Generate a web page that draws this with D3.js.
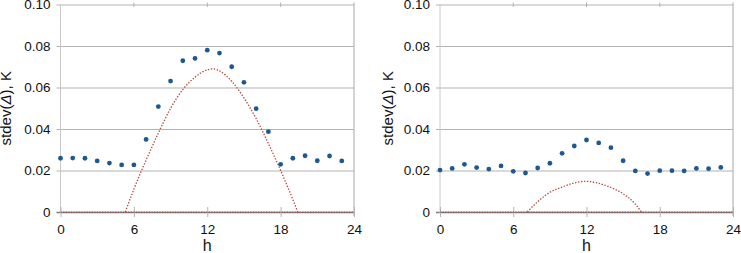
<!DOCTYPE html>
<html>
<head>
<meta charset="utf-8">
<script src="https://cdn.jsdelivr.net/npm/d3@7"></script>
<style>
  body { margin: 0; background: #fff; }
  svg { display: block; font-family: "Liberation Sans", Arial, sans-serif; }
  .tick text { fill: #111; font-size: 13.5px; }
</style>
</head>
<body>
<div id="chart"></div>
<script>
// hours of the measured points
var hours = d3.range(0, 24);
var xTicks = [0, 6, 12, 18, 24];
var yTicks = [0, 0.02, 0.04, 0.06, 0.08, 0.10];

// left panel
var leftPoints = [0.0259, 0.0260, 0.0259, 0.0246, 0.0236, 0.0227, 0.0227, 0.0350,
                  0.0508, 0.0631, 0.0729, 0.0740, 0.0780, 0.0766, 0.0700, 0.0625,
                  0.0498, 0.0387, 0.0230, 0.0259, 0.0271, 0.0247, 0.0270, 0.0246];
var leftCurveH = [5.3, 6, 7, 8, 9, 10, 11, 12, 12.5, 13, 14, 15, 16, 17, 18, 19, 19.4];
var leftCurveV = [0, 0.011, 0.025, 0.038, 0.050, 0.059, 0.065, 0.0685, 0.069, 0.068, 0.063, 0.055, 0.045, 0.033, 0.020, 0.006, 0];

// right panel
var rightPoints = [0.0202, 0.0210, 0.0230, 0.0214, 0.0207, 0.0222, 0.0196, 0.0188,
                   0.0212, 0.0235, 0.0283, 0.0318, 0.0347, 0.0333, 0.0310, 0.0247,
                   0.0198, 0.0185, 0.0199, 0.0199, 0.0198, 0.0210, 0.0209, 0.0215];
var rightCurveH = [7.15, 8, 9, 10, 11, 12, 13, 14, 15, 16, 16.5];
var rightCurveV = [0, 0.005, 0.0095, 0.012, 0.014, 0.0148, 0.0138, 0.0118, 0.0088, 0.0038, 0];

var W = 741, H = 253;
var svg = d3.select("#chart").append("svg")
    .attr("width", W)
    .attr("height", H);

function drawPanel(left, right, labelX, points, curveH, curveV) {
  var top = 4.5, bottom = 212;

  var x = d3.scaleLinear().domain([0, 24]).range([left, right]);
  var y = d3.scaleLinear().domain([0, 0.10]).range([bottom, top]);

  var g = svg.append("g");

  // horizontal grid + y tick labels
  var yAxis = g.append("g")
      .attr("transform", "translate(" + left + ",0)")
      .call(d3.axisLeft(y).tickValues(yTicks).tickSize(-(right - left))
        .tickPadding(10)
        .tickFormat(function(d) { return d === 0 ? "0" : d3.format(".2f")(d); }));
  yAxis.select(".domain").remove();
  yAxis.selectAll(".tick line")
      .attr("x1", -4)
      .attr("stroke", function(d) { return d === 0 ? "#7a7a7a" : "#b4b4b4"; })
      .attr("stroke-width", function(d) { return d === 0 ? 1.3 : 1.1; });

  // left axis line and right border
  g.append("line").attr("x1", left).attr("x2", left).attr("y1", top).attr("y2", bottom + 1)
      .attr("stroke", "#c8c8c8");
  g.append("line").attr("x1", right).attr("x2", right).attr("y1", top - 2).attr("y2", bottom + 4)
      .attr("stroke", "#a8a8a8");

  // bottom axis with crossing ticks
  var xAxis = g.append("g")
      .attr("transform", "translate(0," + bottom + ")")
      .call(d3.axisBottom(x).tickValues(xTicks).tickSize(5).tickPadding(7));
  xAxis.select(".domain").remove();
  xAxis.selectAll(".tick line").attr("y1", -5).attr("stroke", "#b4b4b4");

  // top ticks
  g.selectAll(".toptick").data(xTicks.slice(1, 4)).enter().append("line")
      .attr("class", "toptick")
      .attr("x1", function(d) { return x(d); }).attr("x2", function(d) { return x(d); })
      .attr("y1", top - 2).attr("y2", top + 2.5)
      .attr("stroke", "#b4b4b4");

  // zero baseline of the model (dotted)
  g.append("line")
      .attr("x1", x(0)).attr("x2", x(24)).attr("y1", y(0)).attr("y2", y(0))
      .attr("stroke", "#b5473b").attr("stroke-width", 1).attr("stroke-dasharray", "1.3,1.3");

  // model curve
  var line = d3.line()
      .x(function(d, i) { return x(curveH[i]); })
      .y(function(d) { return y(d); })
      .curve(d3.curveMonotoneX);
  g.append("path")
      .datum(curveV)
      .attr("d", line)
      .attr("fill", "none")
      .attr("stroke", "#b5473b")
      .attr("stroke-width", 1.3)
      .attr("stroke-dasharray", "1.4,1.6");

  // measured points
  g.selectAll(".pt").data(points).enter().append("circle")
      .attr("class", "pt")
      .attr("cx", function(d, i) { return x(hours[i]); })
      .attr("cy", function(d) { return y(d); })
      .attr("r", 2.4)
      .attr("fill", "#1d5893");

  // axis titles
  g.append("text")
      .attr("x", (left + right) / 2)
      .attr("y", 251)
      .attr("text-anchor", "middle")
      .style("font-size", "16px")
      .attr("fill", "#111")
      .text("h");

  var yt = g.append("text")
      .attr("transform", "translate(" + labelX + "," + ((top + bottom) / 2) + ") rotate(-90)")
      .attr("text-anchor", "middle")
      .style("font-size", "15px")
      .attr("fill", "#111");
  yt.append("tspan").text("stdev(");
  yt.append("tspan").style("font-style", "italic").text("Δ");
  yt.append("tspan").text("), K");
}

drawPanel(60.5, 354, 11, leftPoints, leftCurveH, leftCurveV);
drawPanel(440, 733, 393, rightPoints, rightCurveH, rightCurveV);
</script>
</body>
</html>
